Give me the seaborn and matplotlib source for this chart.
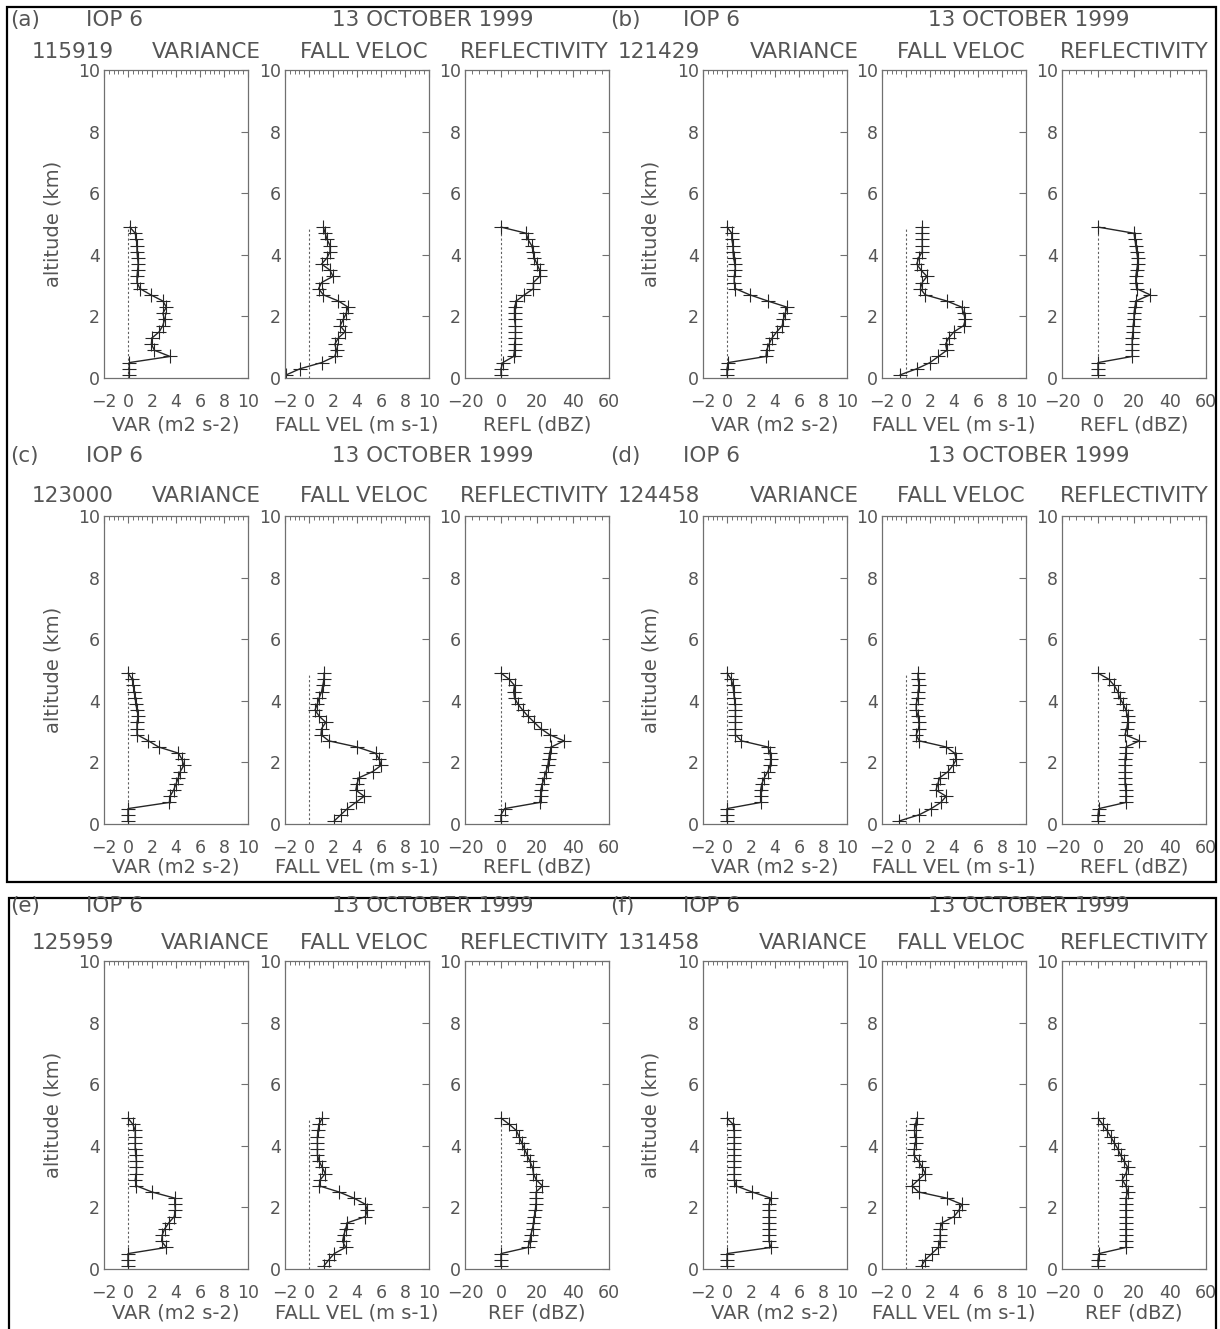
import numpy as np
import pandas as pd
import matplotlib
matplotlib.use("Agg")
import matplotlib.pyplot as plt
from matplotlib.patches import Rectangle
from matplotlib.ticker import MultipleLocator
import seaborn as sns

# ---------------- data ----------------
alt_km = [0.1, 0.3, 0.5, 0.7, 0.9, 1.1, 1.3, 1.5, 1.7, 1.9, 2.1, 2.3, 2.5,
          2.7, 2.9, 3.1, 3.3, 3.5, 3.7, 3.9, 4.1, 4.3, 4.5, 4.7, 4.9]

panel_letters = ["(a)", "(b)", "(c)", "(d)", "(e)", "(f)"]
panel_times = ["115919", "121429", "123000", "124458", "125959", "131458"]
refl_labels = ["REFL (dBZ)", "REFL (dBZ)", "REFL (dBZ)", "REFL (dBZ)", "REF (dBZ)", "REF (dBZ)"]

var_a = [0.1, 0.1, 0.1, 3.5, 2.2, 1.95, 2.0, 2.6, 2.9, 3.05, 2.9, 3.2, 2.9,
         1.9, 1.0, 0.75, 0.75, 0.8, 0.85, 0.8, 0.75, 0.75, 0.7, 0.6, 0.15]
fv_a = [-1.9, -0.75, 1.05, 2.15, 2.3, 2.15, 2.45, 3.0, 2.6, 2.85, 3.1, 3.25, 2.45,
        1.2, 0.8, 1.05, 2.0, 1.75, 1.05, 1.5, 1.75, 1.75, 1.5, 1.35, 1.2]
refl_a = [0, 0, 1, 7, 7.5, 7.5, 8, 8, 8, 7.5, 7.5, 7.5, 8.5,
          13, 18, 18, 21.5, 21.5, 20, 18.5, 18, 17, 15, 14, 0]

var_b = [0, 0, 0.1, 3.25, 3.3, 3.5, 3.75, 4.15, 4.6, 4.7, 4.85, 5.0, 3.4,
         1.9, 0.7, 0.6, 0.6, 0.7, 0.65, 0.55, 0.5, 0.5, 0.4, 0.4, 0]
fv_b = [-0.5, 0.9, 2.0, 2.7, 3.4, 3.3, 3.55, 4.0, 4.8, 4.95, 4.8, 4.65, 3.4,
        1.6, 1.2, 1.35, 1.75, 1.25, 0.9, 1.05, 1.35, 1.35, 1.35, 1.35, 1.35]
refl_b = [0, 0, 0, 19, 19, 19, 19, 19.5, 19.5, 20, 20, 20.5, 21,
          29, 21.5, 21, 21, 21.5, 22, 22, 21.5, 21, 20.5, 20, 0]

var_c = [0, 0, 0, 3.45, 3.5, 3.8, 4.0, 4.2, 4.35, 4.65, 4.5, 4.2, 2.55,
         1.7, 0.75, 0.75, 0.75, 0.85, 0.75, 0.65, 0.6, 0.5, 0.45, 0.35, 0]
fv_c = [2.1, 2.65, 3.2, 3.9, 4.6, 3.9, 4.0, 4.15, 5.3, 6.0, 5.85, 5.55, 4.0,
        1.65, 1.0, 1.05, 1.4, 0.85, 0.5, 0.7, 0.85, 1.05, 1.15, 1.25, 1.25]
refl_c = [0, 0, 2, 21.5, 22, 22, 23, 24, 25, 26, 26.5, 27, 28,
          35, 27, 22, 18.5, 15, 12, 9.3, 7.5, 7, 7.5, 4.5, 0]

var_d = [0, 0, 0, 2.8, 2.8, 2.8, 2.9, 3.1, 3.4, 3.6, 3.65, 3.6, 3.4,
         1.2, 0.7, 0.7, 0.7, 0.7, 0.7, 0.7, 0.6, 0.55, 0.5, 0.35, 0]
fv_d = [-0.55, 1.1, 2.1, 2.9, 3.35, 2.5, 2.65, 2.8, 3.5, 3.9, 4.2, 4.05, 3.35,
        1.1, 0.85, 1.05, 1.1, 1.0, 0.85, 0.85, 1.0, 1.0, 1.1, 1.0, 1.0]
refl_d = [0, 0, 0.5, 15.5, 15.5, 15.5, 15, 15, 15, 15, 15, 15.5, 15.5,
          23, 15, 16, 16.5, 16.5, 15.5, 14, 12, 11, 9, 6, 0]

var_e = [0, 0, 0, 3.2, 2.8, 2.85, 3.05, 3.4, 3.85, 3.95, 3.9, 3.9, 2.0,
         0.7, 0.6, 0.7, 0.7, 0.7, 0.65, 0.6, 0.6, 0.6, 0.6, 0.4, 0]
fv_e = [1.25, 1.65, 2.1, 3.05, 2.8, 2.9, 3.05, 3.2, 4.7, 4.85, 4.7, 3.75, 2.5,
        0.85, 0.95, 1.35, 1.1, 0.85, 0.7, 0.7, 0.7, 0.7, 0.75, 0.85, 1.1]
refl_e = [0, 0, 0, 15, 16, 16.5, 17.5, 18, 18.5, 19, 19.5, 19.5, 19.5,
          23, 19.5, 18, 17.5, 16, 14.5, 13, 11.5, 10, 8.5, 4.5, 0]

var_f = [0, 0, 0, 3.65, 3.5, 3.5, 3.5, 3.5, 3.5, 3.5, 3.5, 3.65, 2.1,
         0.75, 0.6, 0.6, 0.6, 0.6, 0.6, 0.6, 0.6, 0.6, 0.6, 0.5, 0]
fv_f = [1.3, 1.6, 2.15, 2.7, 2.85, 2.85, 2.85, 3.0, 4.0, 4.4, 4.65, 3.4, 1.05,
        0.5, 1.05, 1.6, 1.35, 1.05, 0.65, 0.7, 0.8, 0.8, 0.7, 0.8, 0.9]
refl_f = [0, 0, 0.5, 15.5, 15.5, 15.5, 15.5, 15.5, 15.5, 15.5, 15.5, 15.5, 16.5,
          15.5, 13.5, 15.5, 16.5, 14.5, 12.5, 11, 9, 7, 5, 2.5, 0]

var_all = [var_a, var_b, var_c, var_d, var_e, var_f]
fv_all = [fv_a, fv_b, fv_c, fv_d, fv_e, fv_f]
refl_all = [refl_a, refl_b, refl_c, refl_d, refl_e, refl_f]

# ---------------- style ----------------
sns.set_theme(style="white")
plt.rcParams["font.family"] = ["DejaVu Sans"]
TXT = "#555555"
AXC = "#707070"
LINEC = "#262626"

W, H = 1220, 1329
fig = plt.figure(figsize=(W / 100, H / 100), dpi=100)
fig.patch.set_facecolor("white")


def fx(x):
    return x / W


def fy(y):
    return 1 - y / H


col_lefts = [[104, 285, 465], [703, 882, 1062]]
ax_w = 144
row_tops = [70, 516, 961]
ax_h = 308

line1_y = [20, 456, 906]
line2_y = [52, 496, 943]
xlabel_y = [425, 867, 1313]

HDR = 15.5

for p in range(6):
    r, c = divmod(p, 2)
    top = row_tops[r]
    lefts = col_lefts[c]
    base = 0 if c == 0 else 600
    df = pd.DataFrame({"alt": alt_km, "var": var_all[p], "fv": fv_all[p], "refl": refl_all[p]})
    specs = [("var", (-2, 10), 2, 0.4, "VAR (m2 s-2)"),
             ("fv", (-2, 10), 2, 0.4, "FALL VEL (m s-1)"),
             ("refl", (-20, 60), 20, 4, refl_labels[p])]
    for k, (col, xlim, major, minor, xlab) in enumerate(specs):
        ax = fig.add_axes([fx(lefts[k]), fy(top + ax_h), fx(ax_w), ax_h / H])
        ax.set_facecolor("white")
        ax.vlines(0, 0, max(alt_km), colors="#606060", linestyles=(0, (2, 2)), linewidth=0.8)
        sns.lineplot(data=df, x=col, y="alt", sort=False, estimator=None, ax=ax,
                     color=LINEC, linewidth=1.0, marker="+", markersize=9.5,
                     markeredgewidth=0.8, markeredgecolor=LINEC)
        ax.set_xlim(*xlim)
        ax.set_ylim(0, 10)
        ax.xaxis.set_major_locator(MultipleLocator(major))
        ax.xaxis.set_minor_locator(MultipleLocator(minor))
        ax.yaxis.set_major_locator(MultipleLocator(2))
        ax.tick_params(axis="both", which="both", direction="in", top=True, right=True,
                       color=AXC, labelcolor=TXT, labelsize=12.5)
        ax.tick_params(axis="both", which="major", length=5, width=0.8)
        ax.tick_params(axis="x", which="minor", length=3, width=0.7)
        ax.tick_params(axis="x", which="major", pad=11)
        ax.tick_params(axis="y", which="major", pad=3)
        for s in ax.spines.values():
            s.set_color(AXC)
            s.set_linewidth(0.9)
        ax.set_xlabel("")
        ax.set_ylabel("")
        fig.text(fx(lefts[k] + ax_w / 2), fy(xlabel_y[r]), xlab, ha="center", va="center",
                 fontsize=14, color=TXT)
    # y label
    fig.text(fx(53 + base - (2 if c else 0)), fy(top + ax_h / 2), "altitude (km)", rotation=90,
             ha="center", va="center", fontsize=14, color=TXT)
    # header line 1
    fig.text(fx(10 + base), fy(line1_y[r]), panel_letters[p], ha="left", va="center",
             fontsize=HDR, color=TXT)
    fig.text(fx(86 + base - (3 if c else 0)), fy(line1_y[r]), "IOP 6", ha="left", va="center",
             fontsize=HDR, color=TXT)
    fig.text(fx(533 + base - 3 * c), fy(line1_y[r]), "13 OCTOBER 1999", ha="right", va="center",
             fontsize=HDR, color=TXT)
    # header line 2
    fig.text(fx(32 + base - 14 * c), fy(line2_y[r]), panel_times[p], ha="left", va="center",
             fontsize=HDR, color=TXT)
    var_right = 261 if r < 2 else 270
    fig.text(fx(var_right + base - 2 * c), fy(line2_y[r]), "VARIANCE", ha="right", va="center",
             fontsize=HDR, color=TXT)
    fig.text(fx(428 + base - 3 * c), fy(line2_y[r]), "FALL VELOC", ha="right", va="center",
             fontsize=HDR, color=TXT)
    fig.text(fx(609 + base), fy(line2_y[r]), "REFLECTIVITY", ha="right", va="center",
             fontsize=HDR, color=TXT)

# outer frames
fig.add_artist(Rectangle((fx(7), fy(882)), fx(1216 - 7), (882 - 7) / H, transform=fig.transFigure,
                         fill=False, edgecolor="black", linewidth=1.6))
fig.add_artist(Rectangle((fx(9), fy(1335)), fx(1216 - 9), (1335 - 898) / H, transform=fig.transFigure,
                         fill=False, edgecolor="black", linewidth=1.6, clip_on=False))

fig.savefig("out.png", dpi=100, facecolor="white")
